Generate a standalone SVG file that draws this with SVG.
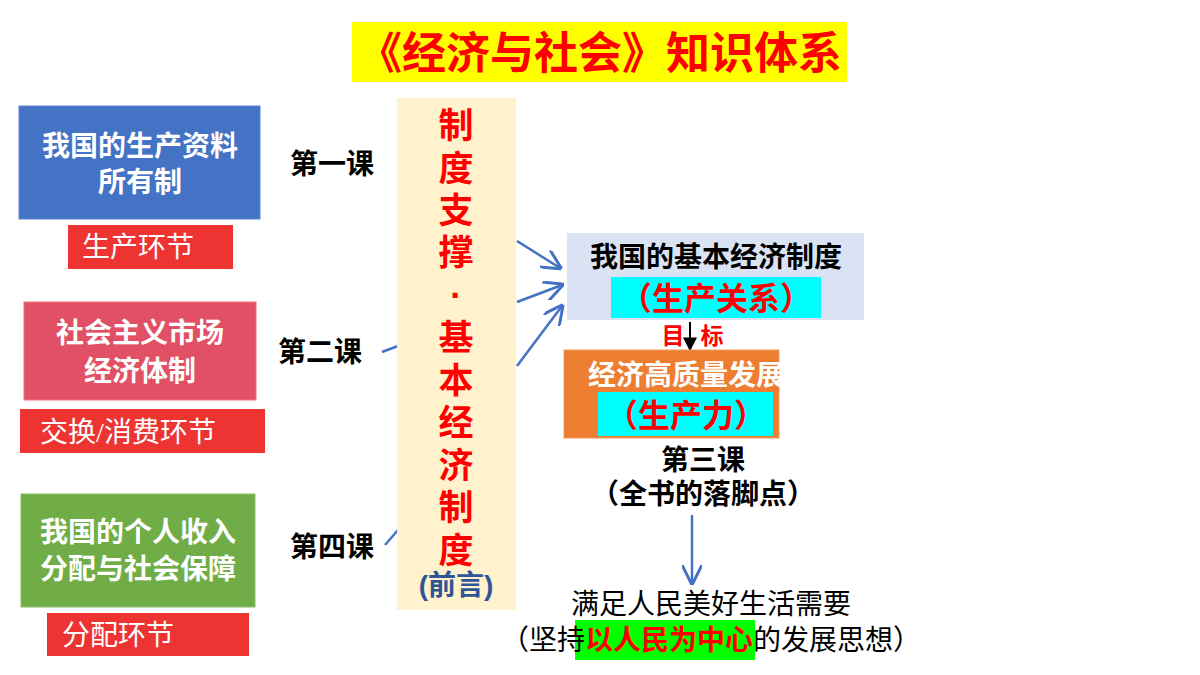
<svg xmlns="http://www.w3.org/2000/svg" width="1200" height="675" viewBox="0 0 1200 675">
<defs>
<style>
.b{font-family:"Liberation Sans","Noto Sans CJK SC",sans-serif;font-weight:bold}
.s{font-family:"Liberation Serif","Noto Sans CJK SC",serif}
.w{fill:#fff;font-size:28px}
.k{fill:#000;font-size:28px}
.r{fill:#ff0000}
.lbl{fill:#ee3333}
.ln{stroke:#4472C4;stroke-width:2.5;fill:none}
</style>
<marker id="ab" viewBox="0 0 10 10" refX="9" refY="5" markerWidth="8" markerHeight="8" orient="auto"><path d="M0,0 L10,5 L0,10" fill="none" stroke="#4472C4" stroke-width="1.5"/></marker>
<marker id="ak" viewBox="0 0 10 10" refX="9" refY="5" markerWidth="7" markerHeight="7" orient="auto"><path d="M0,0 L10,5 L0,10 z" fill="#000"/></marker>
</defs>
<rect width="1200" height="675" fill="#fff"/>
<g id="title"><rect x="352" y="22" width="495" height="60" fill="#ffff00"/><text x="600" y="69" text-anchor="middle" class="b r" font-size="44">《经济与社会》知识体系</text></g>
<g id="connectors">
<line class="ln" x1="382" y1="352" x2="398" y2="346"/>
<line class="ln" x1="385" y1="545" x2="398" y2="530"/>
<line class="ln" x1="517" y1="241" x2="560" y2="268" marker-end="url(#ab)"/>
<line class="ln" x1="517" y1="302" x2="562" y2="285" marker-end="url(#ab)"/>
<line class="ln" x1="517" y1="366" x2="562" y2="306" marker-end="url(#ab)"/>
<line x1="690" y1="322" x2="690" y2="350" stroke="#000" stroke-width="2" marker-end="url(#ak)"/>
<line class="ln" x1="692" y1="515" x2="692" y2="583" marker-end="url(#ab)"/>
</g>
<g id="n1"><rect x="19" y="106" width="241" height="113" fill="#4472C4" stroke="#5a86d0"/><text x="140" y="156" text-anchor="middle" class="b w">我国的生产资料</text><text x="140" y="192" text-anchor="middle" class="b w">所有制</text></g>
<g id="l1"><rect x="68" y="225" width="165" height="44" class="lbl"/><text x="138" y="257" text-anchor="middle" class="s w">生产环节</text></g>
<g id="n2"><rect x="24" y="302" width="232" height="98" fill="#E25065" stroke="#e77"/><text x="140" y="343" text-anchor="middle" class="b w">社会主义市场</text><text x="140" y="381" text-anchor="middle" class="b w">经济体制</text></g>
<g id="l2"><rect x="20" y="409" width="245" height="44" class="lbl"/><text x="128" y="442" text-anchor="middle" class="s w">交换/消费环节</text></g>
<g id="n3"><rect x="21" y="494" width="234" height="113" fill="#70AD47" stroke="#8bc06a"/><text x="138" y="542" text-anchor="middle" class="b w">我国的个人收入</text><text x="138" y="579" text-anchor="middle" class="b w">分配与社会保障</text></g>
<g id="l3"><rect x="47" y="613" width="202" height="43" class="lbl"/><text x="118" y="645" text-anchor="middle" class="s w">分配环节</text></g>
<g id="k1"><text x="332" y="174" text-anchor="middle" class="b k">第一课</text></g>
<g id="k2"><text x="320" y="362" text-anchor="middle" class="b k">第二课</text></g>
<g id="k4"><text x="332" y="557" text-anchor="middle" class="b k">第四课</text></g>
<g id="col"><rect x="397" y="98" width="119" height="512" fill="#FFF2CC"/>
<g class="b r" font-size="35" text-anchor="middle">
<text x="456" y="138">制</text><text x="456" y="181">度</text><text x="456" y="223">支</text><text x="456" y="265">撑</text><text x="456" y="307">·</text><text x="456" y="350">基</text><text x="456" y="393">本</text><text x="456" y="435">经</text><text x="456" y="478">济</text><text x="456" y="520">制</text><text x="456" y="563">度</text></g>
<text x="456" y="595" text-anchor="middle" class="b" font-size="28" fill="#2F5597">(前言)</text></g>
<g id="n4"><rect x="567" y="233" width="297" height="87" fill="#DAE3F3"/><text x="716" y="267" text-anchor="middle" class="b k">我国的基本经济制度</text><rect x="611" y="277" width="210" height="41" fill="#00FFFF"/><text x="716" y="310" text-anchor="middle" class="b r" font-size="32">（生产关系）</text></g>
<g id="goal"><text x="673" y="344" text-anchor="middle" class="b r" font-size="23">目</text><text x="712" y="344" text-anchor="middle" class="b r" font-size="23">标</text></g>
<g id="n5"><rect x="564" y="350" width="215" height="88" fill="#ED7D31" stroke="#f09a5a"/><text x="686" y="385" text-anchor="middle" class="b w">经济高质量发展</text><rect x="598" y="392" width="175" height="44" fill="#00FFFF"/><text x="686" y="427" text-anchor="middle" class="b r" font-size="32">（生产力）</text></g>
<g id="k3"><text x="703" y="470" text-anchor="middle" class="b k">第三课</text><text x="703" y="504" text-anchor="middle" class="b k">（全书的落脚点）</text></g>
<g id="n6"><text x="711" y="614" text-anchor="middle" class="s k">满足人民美好生活需要</text><rect x="575" y="620" width="180" height="40" fill="#00FF00"/><text x="711" y="650" text-anchor="middle" class="s k">（坚持<tspan class="b r">以人民为中心</tspan>的发展思想）</text></g>
</svg>
